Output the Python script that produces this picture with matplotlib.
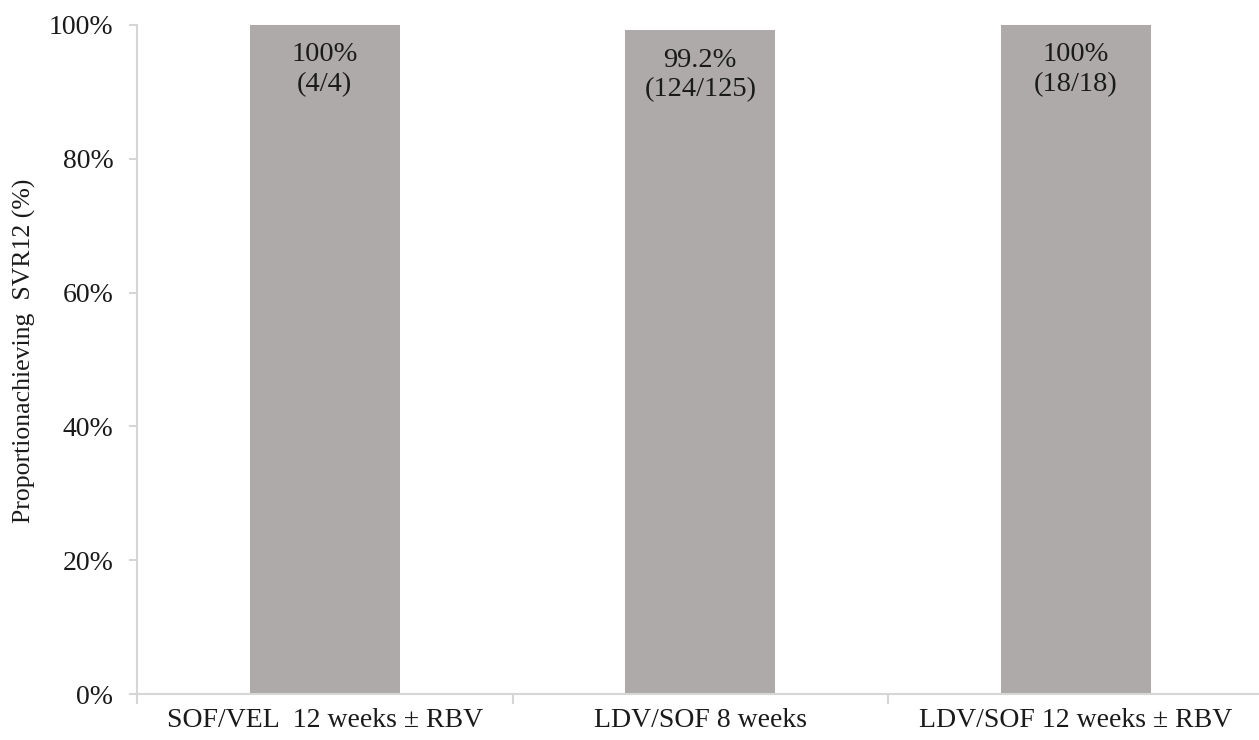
import matplotlib.pyplot as plt
import numpy as np

# data
groups = ['SOF/VEL  12 weeks ± RBV', 'LDV/SOF 8 weeks', 'LDV/SOF 12 weeks ± RBV']
svr = [100, 99.2, 100]
counts = ['(4/4)', '(124/125)', '(18/18)']
yticks = [0, 20, 40, 60, 80, 100]

plt.rcParams['font.family'] = ['Liberation Serif', 'DejaVu Serif']

fig = plt.figure(figsize=(12.59, 7.40), dpi=100)
# axes runs a touch past the right edge, like the original
ax = fig.add_axes([137 / 1259, 46 / 740, 1126.5 / 1259, 669 / 740])

x = np.arange(len(groups))
ax.bar(x, svr, width=0.4, color='#aeaaaa')

for xi, v, c in zip(x, svr, counts):
    lab = '100%' if v == 100 else '%.1f%%' % v
    ax.text(xi, v - 2.6, lab + '\n' + c, ha='center', va='top',
            fontsize=20.5, color='#1a1a1a', linespacing=1.25)

ax.set_xlim(-0.5, len(groups) - 0.5)
ax.set_ylim(0, 100)
ax.set_yticks(yticks)
ax.set_yticklabels(['%d%%' % t for t in yticks], fontsize=20, color='#1a1a1a')

# x ticks sit between categories, labels at bar centres
ax.set_xticks(np.arange(len(groups) + 1) - 0.5)
ax.set_xticklabels([])
ax.set_xticks(x, minor=True)
ax.set_xticklabels(groups, minor=True, fontsize=20, color='#1a1a1a')
ax.tick_params(axis='x', which='minor', length=0, pad=10)
ax.tick_params(axis='x', which='major', length=7, color='#d6d6d6', width=1.5)
ax.tick_params(axis='y', length=6, color='#d6d6d6', width=1.5, pad=11)

for s in ['top', 'right']:
    ax.spines[s].set_visible(False)
for s in ['left', 'bottom']:
    ax.spines[s].set_color('#d6d6d6')
    ax.spines[s].set_linewidth(1.5)

ax.set_ylabel('Proportionachieving  SVR12 (%)', fontsize=18.5, color='#1a1a1a')
ax.yaxis.set_label_coords(-101 / 1126.5, 0.513)

fig.savefig('out.png', dpi=100)
